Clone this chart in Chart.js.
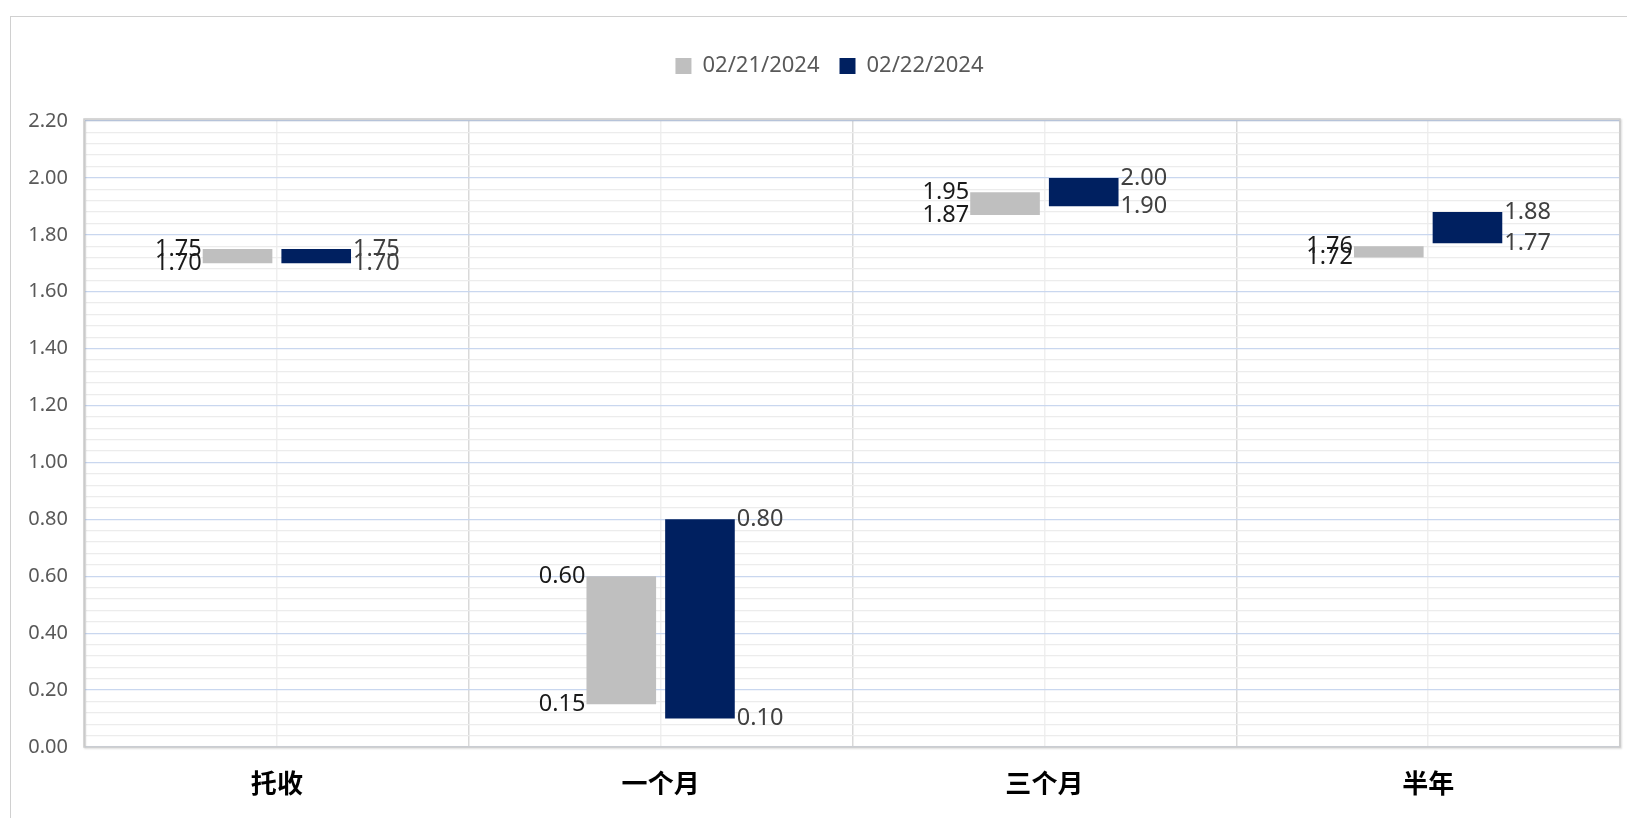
<!DOCTYPE html>
<html>
<head>
<meta charset="utf-8">
<script src="https://cdn.jsdelivr.net/npm/chart.js@4.4.1/dist/chart.umd.min.js"></script>
<style>
  html, body { margin: 0; padding: 0; background: #fff; overflow: hidden; }
  #frame { position: absolute; left: 10px; top: 16px; width: 1700px; height: 900px; border: 1.5px solid #d0d0d0; }
  #wrap { position: absolute; left: 0; top: 0; width: 1627px; height: 818px; }
</style>
</head>
<body>
<div id="frame"></div>
<div id="wrap"><canvas id="rateChart"></canvas></div>
<script>
const categories = ['托收', '一个月', '三个月', '半年'];
const seriesNames = ['02/21/2024', '02/22/2024'];
const low0221 = [1.70, 0.15, 1.87, 1.72];
const high0221 = [1.75, 0.60, 1.95, 1.76];
const low0222 = [1.70, 0.10, 1.90, 1.77];
const high0222 = [1.75, 0.80, 2.00, 1.88];
const yTickMin = 0, yTickMax = 2.2, yMinorStep = 0.04, yMajorStep = 0.2;

const isMajor = v => Math.abs(v / yMajorStep - Math.round(v / yMajorStep)) < 1e-6;

// labels for low / high ends of each floating bar
const endLabels = {
  id: 'endLabels',
  afterDatasetsDraw(chart) {
    const ctx = chart.ctx;
    ctx.save();
    ctx.font = '23.5px "Noto Sans", "Open Sans", sans-serif';
    ctx.textBaseline = 'middle';
    chart.data.datasets.forEach((ds, i) => {
      const meta = chart.getDatasetMeta(i);
      meta.data.forEach((bar, j) => {
        const [lo, hi] = ds.data[j];
        const half = bar.width / 2;
        if (i === 0) {
          ctx.textAlign = 'right';
          ctx.fillStyle = '#1a1a1a';
          ctx.fillText(hi.toFixed(2), bar.x - half - 1, bar.y);
          ctx.fillText(lo.toFixed(2), bar.x - half - 1, bar.base);
        } else {
          ctx.textAlign = 'left';
          ctx.fillStyle = '#404040';
          ctx.fillText(hi.toFixed(2), bar.x + half + 2, bar.y);
          ctx.fillText(lo.toFixed(2), bar.x + half + 2, bar.base);
        }
      });
    });
    ctx.restore();
  }
};

// plot area border
const plotFrame = {
  id: 'plotFrame',
  afterDraw(chart) {
    const a = chart.chartArea, ctx = chart.ctx;
    ctx.save();
    ctx.strokeStyle = '#cccccc';
    ctx.lineWidth = 1.5;
    ctx.shadowColor = 'rgba(0,0,0,0.18)';
    ctx.shadowBlur = 2;
    ctx.shadowOffsetX = 1;
    ctx.shadowOffsetY = 1;
    ctx.strokeRect(a.left - 1, a.top - 2, a.right - a.left + 1, a.bottom - a.top + 2);
    ctx.restore();
  }
};

// legend box height and horizontal placement
const legendBox = {
  id: 'legendBox',
  beforeInit(chart) {
    const fit = chart.legend.fit;
    chart.legend.fit = function () {
      fit.call(this);
      this.height = 86;
    };
  },
  afterLayout(chart) {
    chart.legend.left = 39;
  }
};

const ctx = document.getElementById('rateChart').getContext('2d');
new Chart(ctx, {
  type: 'bar',
  data: {
    labels: categories,
    datasets: [{
      label: seriesNames[0],
      data: categories.map((c, i) => [low0221[i], high0221[i]]),
      backgroundColor: '#bfbfbf',
      categoryPercentage: 0.41,
      barPercentage: 0.885
    }, {
      label: seriesNames[1],
      data: categories.map((c, i) => [low0222[i], high0222[i]]),
      backgroundColor: '#002060',
      categoryPercentage: 0.41,
      barPercentage: 0.885
    }]
  },
  options: {
    responsive: true,
    maintainAspectRatio: false,
    animation: false,
    layout: { padding: { top: 35, right: 7, left: 0, bottom: 0 } },
    plugins: {
      legend: {
        position: 'top',
        labels: {
          boxWidth: 16,
          boxHeight: 16,
          padding: 20,
          color: '#595959',
          font: { size: 22, family: '"Noto Sans", "Open Sans", sans-serif' }
        }
      },
      tooltip: { enabled: false }
    },
    scales: {
      x: {
        position: 'bottom',
        grid: { offset: true, color: '#d9d9d9', lineWidth: 1.5, drawTicks: false },
        border: { display: false },
        ticks: {
          padding: 21,
          color: '#000000',
          font: { size: 26, weight: 'bold', family: '"Noto Sans CJK SC", sans-serif' }
        },
        afterFit(scale) { scale.height = 71; }
      },
      x2: {
        position: 'top',
        type: 'category',
        labels: categories,
        offset: true,
        grid: { offset: false, color: '#efefef', lineWidth: 1.5, drawTicks: false },
        border: { display: false },
        ticks: { display: false },
        afterFit(scale) { scale.height = 0; }
      },
      y: {
        min: yTickMin,
        max: yTickMax,
        grid: {
          drawTicks: false,
          color: c => isMajor(c.tick.value) ? '#c9d7ef' : '#ececec',
          lineWidth: 1.3
        },
        border: { display: false },
        ticks: {
          stepSize: yMinorStep,
          autoSkip: false,
          padding: 17,
          color: '#595959',
          font: { size: 20, family: '"Noto Sans", "Open Sans", sans-serif' },
          callback: v => isMajor(v) ? v.toFixed(2) : ''
        },
        afterFit(scale) { scale.width = 85; }
      }
    }
  },
  plugins: [endLabels, plotFrame, legendBox]
});
</script>
</body>
</html>
